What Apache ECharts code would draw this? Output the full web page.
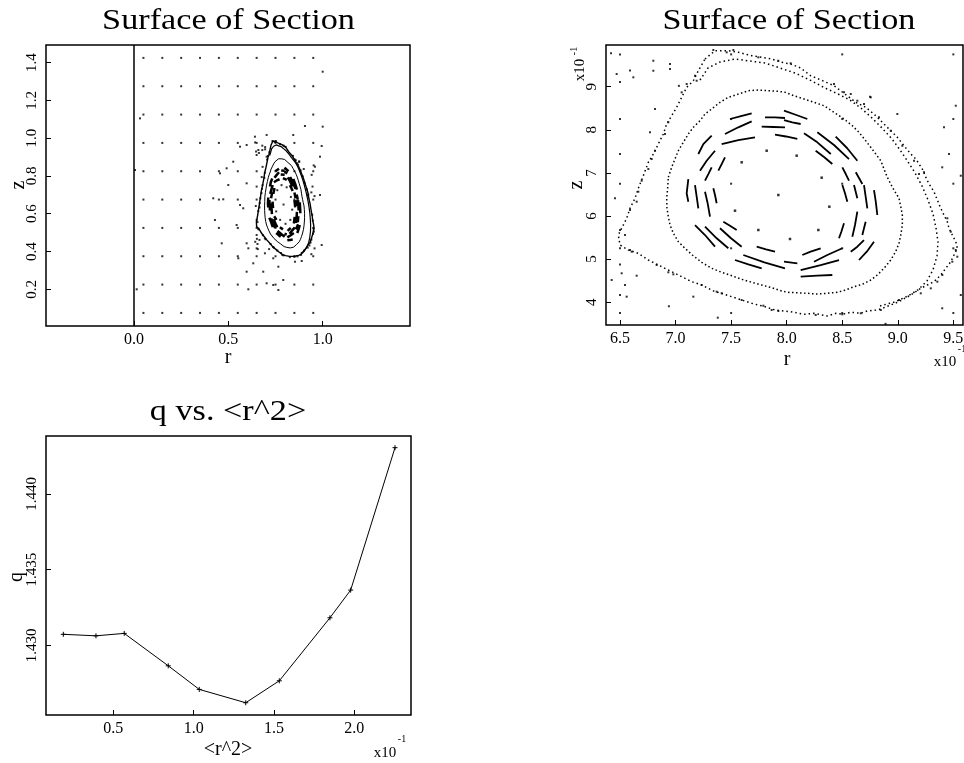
<!DOCTYPE html>
<html><head><meta charset="utf-8">
<script src="https://cdn.jsdelivr.net/npm/echarts@6/dist/echarts.min.js"></script>
<style>html,body{margin:0;padding:0;background:#fff}#c{width:964px;height:763px}</style>
</head><body><div id="c"></div>
<script>
// ---------- DATA (true units: r, z ; <r^2>, q) ----------
const gridR = [0.05,0.15,0.25,0.35,0.45,0.55,0.65,0.75,0.85,0.95];
const gridZ = [0.075,0.225,0.375,0.525,0.675,0.825,0.975,1.125,1.275,1.425];

const outerStrandA = [[0.7265,0.9643],[0.7355,0.9835],[0.7475,0.9835],[0.7565,0.9798],[0.7685,0.9719],[0.7775,0.9682],[0.7865,0.9643],[0.7955,0.9566],[0.8036,0.9527],[0.8126,0.9434],[0.8216,0.9255],[0.8336,0.9125],[0.8426,0.9023],[0.8516,0.8847],[0.8622,0.8638],[0.8712,0.8522],[0.8802,0.8327],[0.8876,0.8135],[0.8937,0.7979],[0.8996,0.7826],[0.9056,0.7631],[0.9117,0.7439],[0.9162,0.7323],[0.9221,0.709],[0.9266,0.6819],[0.9297,0.668],[0.9326,0.6564],[0.9356,0.6371],[0.9387,0.6179],[0.9416,0.6023],[0.9446,0.5868],[0.9461,0.5715],[0.9491,0.5559],[0.9522,0.5404],[0.9536,0.5251],[0.9506,0.5095],[0.9477,0.494],[0.9432,0.4787],[0.9387,0.4631],[0.9326,0.4476],[0.9266,0.4399],[0.9207,0.4322],[0.9117,0.4167],[0.9011,0.4012],[0.8937,0.3935],[0.8861,0.3859],[0.8816,0.3819],[0.8726,0.3796],[0.8667,0.3743],[0.8577,0.3766],[0.8501,0.3719],[0.8442,0.3742],[0.8366,0.368],[0.8246,0.3742],[0.8156,0.3719],[0.8036,0.378],[0.7895,0.3819],[0.7805,0.3896],[0.7685,0.3974],[0.7595,0.4051],[0.7505,0.4128],[0.7415,0.4206],[0.7355,0.4244],[0.7235,0.4399],[0.7145,0.4476],[0.7025,0.4631],[0.6935,0.4747],[0.6845,0.4863],[0.6755,0.4979],[0.6665,0.5135],[0.6575,0.5211],[0.65,0.5327],[0.6485,0.5559],[0.6515,0.5715],[0.656,0.5947],[0.659,0.6179],[0.6635,0.6411],[0.6665,0.6643],[0.668,0.6742],[0.671,0.6935],[0.6755,0.7246],[0.68,0.7439],[0.6845,0.7671],[0.689,0.7903],[0.692,0.8135],[0.6965,0.8327],[0.701,0.8522],[0.707,0.8831],[0.71,0.8986],[0.716,0.9139],[0.7205,0.9371],[0.7265,0.9643]];

const outerStrandB = [[0.722,0.9155],[0.7292,0.9434],[0.74,0.9573],[0.7535,0.9643],[0.767,0.9596],[0.7805,0.955],[0.794,0.9434],[0.8075,0.9318],[0.821,0.9155],[0.8345,0.897],[0.8462,0.8831],[0.857,0.8691],[0.8678,0.8483],[0.8768,0.8274],[0.8858,0.8042],[0.8948,0.7787],[0.902,0.7535],[0.9092,0.7257],[0.9155,0.7002],[0.9218,0.6698],[0.9272,0.6374],[0.9317,0.6049],[0.9344,0.5724],[0.9362,0.5399],[0.9353,0.5074],[0.9317,0.475],[0.9263,0.4494],[0.9182,0.4285],[0.9092,0.4146],[0.8975,0.4007],[0.884,0.3914]];

const bandNoise = [[0.734,0.9852],[0.746,0.9798],[0.752,0.9852],[0.7745,0.9682],[0.7925,0.9603],[0.7175,0.9255],[0.719,0.9139],[0.71,0.9063],[0.7055,0.887],[0.6935,0.8174],[0.6905,0.7903],[0.6815,0.7515],[0.6785,0.7322],[0.6755,0.709],[0.6695,0.6819],[0.8036,0.9543],[0.8426,0.9063],[0.8516,0.887],[0.8577,0.8831],[0.8636,0.8675],[0.8696,0.8599],[0.8757,0.8754],[0.8831,0.829],[0.8937,0.7979],[0.9041,0.7631],[0.9146,0.7283],[0.9236,0.7014],[0.9191,0.6974],[0.9446,0.5947],[0.9477,0.5636],[0.9522,0.5211],[0.9536,0.5056],[0.9491,0.494],[0.9401,0.4631],[0.9356,0.4476],[0.9297,0.4322],[0.9207,0.4206],[0.9011,0.4051],[0.8847,0.3819],[0.8667,0.3743],[0.8501,0.3719],[0.8261,0.3703],[0.65,0.5675],[0.6545,0.5559],[0.659,0.5211],[0.6605,0.5172],[0.6665,0.6564],[0.665,0.6332],[0.659,0.6139],[0.683,0.4863],[0.6935,0.4694],[0.698,0.4647],[0.7235,0.4399],[0.737,0.4244],[0.7415,0.4206],[0.7595,0.4051],[0.779,0.3919],[0.7865,0.3819],[0.7925,0.3796]];

const ringTwo = [[0.6935,0.6898],[0.6965,0.713],[0.6995,0.7322],[0.7025,0.7515],[0.707,0.771],[0.7115,0.7903],[0.716,0.8058],[0.722,0.8211],[0.7265,0.8367],[0.7325,0.8483],[0.74,0.8638],[0.7475,0.8754],[0.7565,0.883],[0.7655,0.8907],[0.7745,0.8923],[0.7835,0.8907],[0.7925,0.8893],[0.7985,0.887],[0.8066,0.8791],[0.8156,0.8715],[0.8246,0.8638],[0.8336,0.8559],[0.8426,0.8406],[0.8516,0.8251],[0.8591,0.8095],[0.8651,0.7942],[0.8711,0.7747],[0.8757,0.7594],[0.8802,0.7439],[0.8847,0.7283],[0.8876,0.709],[0.8906,0.6898],[0.8937,0.6742],[0.8966,0.6603],[0.9011,0.6411],[0.9027,0.6216],[0.9041,0.6023],[0.9041,0.5791],[0.9027,0.5559],[0.9011,0.5367],[0.8981,0.5172],[0.8937,0.4979],[0.8876,0.4787],[0.8816,0.4631],[0.8757,0.4515],[0.8681,0.4415],[0.8606,0.436],[0.8531,0.4283],[0.8456,0.423],[0.8366,0.4206],[0.8276,0.419],[0.8186,0.4206],[0.8096,0.422],[0.8006,0.423],[0.7955,0.426],[0.7865,0.4336],[0.7775,0.4399],[0.7685,0.4462],[0.7595,0.4531],[0.7505,0.4615],[0.7415,0.4694],[0.7325,0.4787],[0.7235,0.4926],[0.7151,0.5095],[0.7085,0.5251],[0.7025,0.5404],[0.698,0.5599],[0.695,0.5791],[0.6935,0.5984],[0.6923,0.6179],[0.692,0.6411],[0.6929,0.6643],[0.6935,0.6898]];

const islandArcs = [
 [[0.749,0.8251],[0.7589,0.832],[0.7685,0.8383]],
 [[0.7445,0.7903],[0.7565,0.8058],[0.7685,0.8197]],
 [[0.7415,0.767],[0.7565,0.7763],[0.7715,0.7826]],
 [[0.7805,0.829],[0.7895,0.829],[0.7985,0.8274]],
 [[0.7775,0.8072],[0.788,0.8065],[0.7985,0.8058]],
 [[0.7895,0.7886],[0.7994,0.7845],[0.8096,0.7787]],
 [[0.7205,0.7439],[0.725,0.767],[0.7325,0.7863]],
 [[0.722,0.7051],[0.728,0.7283],[0.7355,0.7515]],
 [[0.7265,0.6819],[0.7295,0.6974],[0.7325,0.713]],
 [[0.7385,0.7051],[0.7415,0.7206],[0.7445,0.7362]],
 [[0.7115,0.6858],[0.71,0.6527],[0.7115,0.6332]],
 [[0.7175,0.6719],[0.719,0.6448],[0.7205,0.6179]],
 [[0.7265,0.6564],[0.7289,0.6295],[0.731,0.5984]],
 [[0.734,0.6643],[0.7355,0.6487],[0.737,0.6295]],
 [[0.7175,0.5791],[0.7265,0.5559],[0.7355,0.5288]],
 [[0.7265,0.5752],[0.737,0.5483],[0.7475,0.5251]],
 [[0.74,0.5715],[0.7499,0.5483],[0.7595,0.5288]],
 [[0.743,0.5868],[0.749,0.5775],[0.755,0.5675]],
 [[0.773,0.5288],[0.7814,0.5227],[0.7895,0.5172]],
 [[0.761,0.5095],[0.7799,0.4926],[0.7985,0.4787]],
 [[0.7535,0.4979],[0.7655,0.4879],[0.7775,0.4787]],
 [[0.7976,0.8443],[0.8081,0.835],[0.8186,0.8251]],
 [[0.7976,0.8227],[0.8051,0.8174],[0.8126,0.8135]],
 [[0.8156,0.7919],[0.8276,0.771],[0.8397,0.7438]],
 [[0.8276,0.7942],[0.8426,0.7647],[0.8561,0.7322]],
 [[0.8441,0.784],[0.8543,0.7578],[0.8636,0.7283]],
 [[0.8261,0.7515],[0.8336,0.7369],[0.8411,0.7206]],
 [[0.8501,0.713],[0.8532,0.6974],[0.8561,0.6819]],
 [[0.8622,0.7014],[0.8651,0.6882],[0.8681,0.6742]],
 [[0.8501,0.6719],[0.8525,0.6527],[0.8546,0.6332]],
 [[0.8606,0.6719],[0.8636,0.6411]],
 [[0.8696,0.6719],[0.8711,0.6448],[0.8726,0.6179]],
 [[0.8786,0.6603],[0.8802,0.6332],[0.8816,0.6023]],
 [[0.8516,0.5831],[0.8492,0.5636],[0.8471,0.5483]],
 [[0.8636,0.61],[0.8615,0.5791],[0.8591,0.552]],
 [[0.8711,0.5868],[0.8696,0.5715],[0.8681,0.5559]],
 [[0.8786,0.5404],[0.8721,0.5172],[0.8651,0.4979]],
 [[0.8696,0.5443],[0.8636,0.5288],[0.8577,0.5172]],
 [[0.8306,0.5251],[0.8216,0.5172],[0.8141,0.5095]],
 [[0.8501,0.5251],[0.8366,0.5095],[0.8246,0.494]],
 [[0.8471,0.4979],[0.8306,0.4863],[0.8126,0.4747]],
 [[0.8411,0.4631],[0.8276,0.4615],[0.8126,0.4592]],
 [[0.7976,0.494],[0.8096,0.4902]]
];

const centerDots = [[0.782,0.7515],[0.809,0.74],[0.8315,0.6889],[0.7595,0.7246],[0.7925,0.6487],[0.7535,0.6123],[0.8384,0.6216],[0.7745,0.5675],[0.803,0.5467],[0.8285,0.5675]];

const strayDots = [[0.0318,1.105],[0.0053,0.8316],[0.0143,0.2],[1.0,1.352],[0.906,1.0645],[1.0,1.061],[0.844,1.017],[0.9947,0.9586],[0.703,1.017],[0.641,1.008],[0.597,0.964],[0.562,0.955],[0.526,0.8755],[0.491,0.8406],[0.456,0.814],[0.4998,0.752],[0.597,0.761],[0.42,0.6817],[0.473,0.6764],[0.429,0.5669],[0.544,0.5404],[0.579,0.6288],[0.465,0.4435],[0.597,0.4435],[0.553,0.3641],[0.632,0.3376],[0.597,0.2932],[0.685,0.2932],[0.703,0.2318],[0.606,0.2],[0.738,0.2228],[0.765,0.1963],[0.791,0.2492],[0.765,0.3196],[0.853,0.3461],[0.889,0.3498],[0.9947,0.4345],[0.9857,0.6992],[0.959,0.849],[0.9857,0.902],[0.65,0.4875],[0.65,0.417],[0.606,0.417],[0.65,0.911],[0.659,0.9374],[0.703,0.902],[0.694,0.3906],[0.738,0.3641],[0.562,0.6463],
 [0.6419,0.9775],[0.68,0.9603],[0.68,0.9371],[0.695,0.9527],[0.695,0.9411],[0.647,0.9295],[0.662,0.9218],[0.6815,0.8483],[0.677,0.7942],[0.65,0.7438],[0.9522,0.8559],[0.9416,0.8058],[0.9461,0.7438],[0.9567,0.6935],[0.8996,0.8367],[0.875,0.8768],[0.94,0.713],[0.6425,0.4515],[0.6515,0.4671],[0.6545,0.4399],[0.656,0.4128],[0.665,0.4615],[0.716,0.4128],[0.6455,0.6411],[0.9567,0.4167],[0.94,0.3859]];

// q vs <r^2>
const r2Values = [0.0189,0.0392,0.0568,0.0842,0.1035,0.1324,0.1533,0.1848,0.1977,0.2253];
const qValues  = [1.43073,1.43063,1.43079,1.42865,1.42709,1.42621,1.42766,1.43182,1.43365,1.44306];

// tick labels
const p1XTicks = [0, 0.5, 1.0];
const p1YTicks = [0.2, 0.4, 0.6, 0.8, 1.0, 1.2, 1.4];
const p2XTicks = [0.65, 0.70, 0.75, 0.80, 0.85, 0.90, 0.95];
const p2YTicks = [0.4, 0.5, 0.6, 0.7, 0.8, 0.9];
const p3XTicks = [0.05, 0.10, 0.15, 0.20];
const p3YTicks = [1.430, 1.435, 1.440];

// ---------- BUILD ----------
const FONT = "'Liberation Serif', 'DejaVu Serif', serif";
const gridPts = [];
gridR.forEach(r => gridZ.forEach(z => gridPts.push([r, z])));
const arcData = [];
islandArcs.forEach(a => { a.forEach(p => arcData.push(p)); arcData.push(null); });

function makeAxis(gi, min, max, ticks, fmt, rotate) {
  return {
    type: 'value', gridIndex: gi, min: min, max: max, scale: true,
    axisLine: { show: false, onZero: false },
    splitLine: { show: false },
    axisTick: { show: true, inside: true, length: 5, customValues: ticks, lineStyle: { color: '#000', width: 1 } },
    axisLabel: { show: true, customValues: ticks, formatter: fmt, color: '#000', fontFamily: FONT,
                 fontSize: rotate ? 15 : 16, margin: 6, rotate: rotate || 0 }
  };
}

function panelSeries(i, dense) {
  const b = { xAxisIndex: i, yAxisIndex: i, silent: true, animation: false };
  const dotted = dense ? 'solid' : [1.5, 3];
  const list = [
    Object.assign({}, b, { type: 'scatter', data: gridPts, symbol: 'rect', symbolSize: 2, itemStyle: { color: '#000' } }),
    Object.assign({}, b, { type: 'scatter', data: strayDots, symbol: 'rect', symbolSize: 2, itemStyle: { color: '#000' } }),
    Object.assign({}, b, { type: 'scatter', data: bandNoise, symbol: 'rect', symbolSize: 2, itemStyle: { color: '#000' } }),
    Object.assign({}, b, { type: 'scatter', data: centerDots, symbol: 'rect', symbolSize: dense ? 2 : 2.5, itemStyle: { color: '#000' } }),
    Object.assign({}, b, { type: 'line', data: outerStrandA, symbol: 'none', showSymbol: false, lineStyle: { color: '#000', width: dense ? 1.4 : 1.5, type: dotted } }),
    Object.assign({}, b, { type: 'line', data: outerStrandB, symbol: 'none', showSymbol: false, lineStyle: { color: '#000', width: dense ? 1.2 : 1.5, type: dotted } }),
    Object.assign({}, b, { type: 'line', data: ringTwo, symbol: 'none', showSymbol: false, lineStyle: { color: '#000', width: dense ? 1 : 1.5, type: dense ? 'solid' : [1.5, 2.5] } }),
    Object.assign({}, b, { type: 'line', data: arcData, connectNulls: false, symbol: 'none', showSymbol: false, lineStyle: { color: '#000', width: dense ? 2.5 : 1.8 } })
  ];
  if (dense) {
    list[0].markLine = { silent: true, symbol: 'none', label: { show: false }, lineStyle: { color: '#000', width: 1.5, type: 'solid' }, data: [{ xAxis: 0 }], animation: false };
  }
  return list;
}

const chart = echarts.init(document.getElementById('c'), null, { renderer: 'canvas' });
const txt = (x, y, text, size, rot, extra) => Object.assign({
  type: 'text', x: x, y: y, rotation: rot || 0, silent: true,
  style: { text: text, fontFamily: FONT, fontSize: size, fill: '#000', align: 'center', verticalAlign: 'middle', textAlign: 'center', textVerticalAlign: 'middle' }
}, extra || {});

chart.setOption({
  backgroundColor: '#fff',
  animation: false,
  grid: [
    { left: 46, top: 45, width: 364, height: 281, show: true, borderColor: '#000', borderWidth: 1.5, backgroundColor: 'transparent', outerBoundsMode: 'none' },
    { left: 606, top: 45, width: 357, height: 280, show: true, borderColor: '#000', borderWidth: 1.5, backgroundColor: 'transparent', outerBoundsMode: 'none' },
    { left: 46, top: 436, width: 365, height: 279, show: true, borderColor: '#000', borderWidth: 1.5, backgroundColor: 'transparent', outerBoundsMode: 'none' }
  ],
  xAxis: [
    makeAxis(0, -0.4663, 1.4627, p1XTicks, v => v.toFixed(1)),
    makeAxis(1, 0.6374, 0.9587, p2XTicks, v => (v * 10).toFixed(1)),
    makeAxis(2, 0.00812, 0.23525, p3XTicks, v => (v * 10).toFixed(1))
  ],
  yAxis: [
    makeAxis(0, 0.0057, 1.4933, p1YTicks, v => v.toFixed(1), 90),
    makeAxis(1, 0.3471, 0.9968, p2YTicks, v => String(Math.round(v * 10)), 90),
    makeAxis(2, 1.4254, 1.44383, p3YTicks, v => v.toFixed(3), 90)
  ],
  series: panelSeries(0, true).concat(panelSeries(1, false)).concat([
    { type: 'line', xAxisIndex: 2, yAxisIndex: 2, silent: true, animation: false,
      data: r2Values.map((x, k) => [x, qValues[k]]),
      symbol: 'path://M5 0V10M0 5H10', symbolSize: 5, showSymbol: true,
      itemStyle: { color: '#000', borderColor: '#000', borderWidth: 1 },
      lineStyle: { color: '#000', width: 1 } }
  ]),
  graphic: [
    txt(228.5, 21, 'Surface of Section', 29, 0, { scaleX: 1.18 }),
    txt(789, 21, 'Surface of Section', 29, 0, { scaleX: 1.18 }),
    txt(228, 412, 'q vs. <r^2>', 29, 0, { scaleX: 1.18 }),
    txt(228, 358, 'r', 20),
    txt(19, 185, 'z', 20, Math.PI / 2),
    txt(787, 360, 'r', 20),
    txt(577, 185, 'z', 20, Math.PI / 2),
    txt(580, 70, 'x10', 15, Math.PI / 2),
    txt(574, 51, '-1', 10, Math.PI / 2),
    txt(945, 362, 'x10', 15),
    txt(962, 349, '-1', 10),
    txt(228, 750, '<r^2>', 20),
    txt(17, 577, 'q', 20, Math.PI / 2),
    txt(385, 753, 'x10', 15),
    txt(402, 739, '-1', 10)
  ]
});
</script></body></html>
